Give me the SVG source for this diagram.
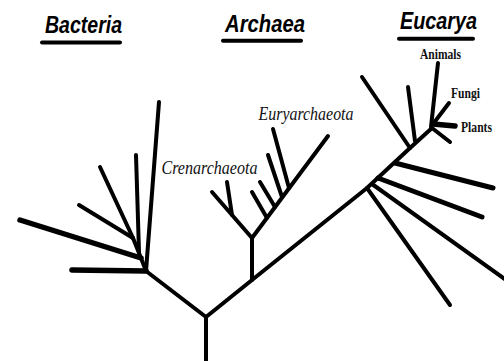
<svg xmlns="http://www.w3.org/2000/svg" width="504" height="361" viewBox="0 0 504 361">
<style>
.b{fill:none;stroke:#000;stroke-width:4;stroke-linecap:round;stroke-linejoin:round}
.t{stroke-width:5.5}
.m{stroke-width:5}
.ul{stroke:#000;stroke-width:4;stroke-linecap:round}
.h{font-family:"Liberation Sans",Arial,sans-serif;font-weight:bold;font-style:italic;font-size:23px;fill:#000}
.g{font-family:"Liberation Serif","Times New Roman",serif;font-style:italic;font-size:18.5px;fill:#111}
.s{font-family:"Liberation Serif","Times New Roman",serif;font-weight:bold;font-size:14.5px;fill:#111}
</style>
<rect width="504" height="361" fill="#fff"/>
<g id="bacteria">
<text class="h" x="45" y="33" textLength="77" lengthAdjust="spacingAndGlyphs">Bacteria</text>
<line class="ul" x1="42" y1="42.5" x2="120" y2="42.5"/>
</g>
<g id="archaea">
<text class="h" x="225" y="32" textLength="80" lengthAdjust="spacingAndGlyphs">Archaea</text>
<line class="ul" x1="223" y1="40.8" x2="301" y2="40.8"/>
</g>
<g id="eucarya">
<text class="h" x="400" y="28.5" textLength="77" lengthAdjust="spacingAndGlyphs">Eucarya</text>
<line class="ul" x1="399" y1="38.7" x2="473" y2="38.7"/>
</g>
<g id="crenarchaeota"><text class="g" x="161.5" y="174" textLength="96" lengthAdjust="spacingAndGlyphs">Crenarchaeota</text></g>
<g id="euryarchaeota"><text class="g" x="258.5" y="120" textLength="95" lengthAdjust="spacingAndGlyphs">Euryarchaeota</text></g>
<g id="animals"><text class="s" x="420" y="59" textLength="41" lengthAdjust="spacingAndGlyphs">Animals</text></g>
<g id="fungi"><text class="s" x="451" y="97.5" textLength="29" lengthAdjust="spacingAndGlyphs">Fungi</text></g>
<g id="plants"><text class="s" x="461" y="131.5" textLength="31" lengthAdjust="spacingAndGlyphs">Plants</text></g>
<g id="connectors">
<!-- root and trunk -->
<path class="b" d="M206,361 L206,317 L252,280 L367,188 L410,148 L432,128"/>
<!-- bacteria -->
<path class="b" d="M206,317 L146,271 L141,258 L133,238"/>
<line class="b t" x1="72" y1="270" x2="146" y2="271"/>
<line class="b" x1="159" y1="102" x2="146" y2="271"/>
<line class="b t" x1="20" y1="220" x2="141" y2="258"/>
<line class="b" x1="79" y1="205" x2="133" y2="238"/>
<line class="b" x1="100" y1="167" x2="133" y2="238"/>
<line class="b" x1="136" y1="155" x2="139" y2="252"/>
<!-- archaea -->
<line class="b" x1="252" y1="280" x2="252" y2="238"/>
<line class="b" x1="252" y1="238" x2="212" y2="192"/>
<line class="b" x1="227" y1="182" x2="232" y2="215"/>
<line class="b" x1="252" y1="238" x2="328" y2="136"/>
<line class="b" x1="252" y1="192" x2="267" y2="218"/>
<line class="b" x1="260" y1="182" x2="275" y2="207"/>
<line class="b" x1="268" y1="155" x2="282" y2="197"/>
<line class="b" x1="273" y1="129" x2="289" y2="188"/>
<!-- eucarya -->
<line class="b" x1="367" y1="188" x2="450" y2="305"/>
<line class="b" x1="372" y1="184" x2="506" y2="280"/>
<line class="b m" x1="378" y1="178" x2="482" y2="217"/>
<line class="b m" x1="395" y1="163" x2="493" y2="188"/>
<line class="b" x1="362" y1="77" x2="410" y2="148"/>
<line class="b" x1="408" y1="87" x2="415" y2="141"/>
<line class="b" x1="438" y1="63" x2="431" y2="127"/>
<line class="b" x1="449" y1="103" x2="433" y2="124"/>
<line class="b t" x1="433" y1="124" x2="455" y2="126"/>
<line class="b" x1="432" y1="128" x2="450" y2="142"/>
</g>
</svg>
